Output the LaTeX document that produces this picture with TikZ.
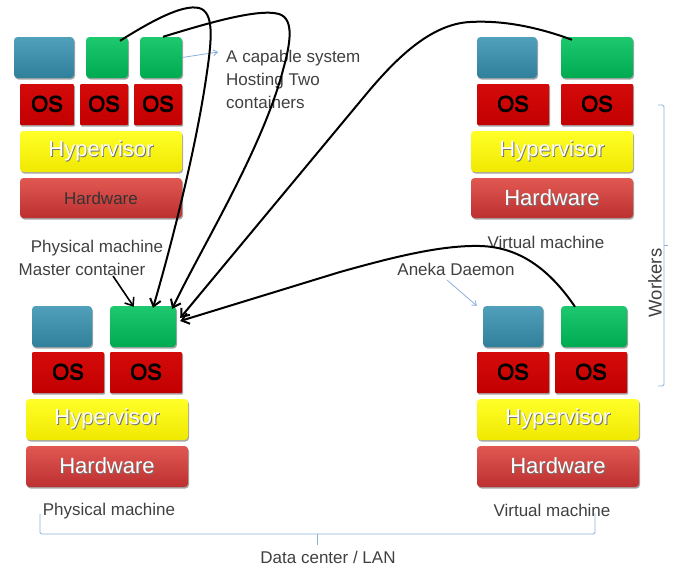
\documentclass[tikz,border=0pt]{standalone}
\usepackage{fontspec}
\setmainfont{Liberation Sans}
\usetikzlibrary{arrows.meta,shadows}

\definecolor{labelgray}{RGB}{64,64,64}
\definecolor{bracketblue}{RGB}{140,175,220}
\definecolor{contblueT}{RGB}{80,160,188}
\definecolor{contblueB}{RGB}{48,128,155}
\definecolor{contgreenT}{RGB}{30,200,110}
\definecolor{contgreenB}{RGB}{0,170,80}
\definecolor{osredT}{RGB}{212,10,10}
\definecolor{osredB}{RGB}{195,0,0}
\definecolor{hypT}{RGB}{255,255,40}
\definecolor{hypB}{RGB}{240,232,0}
\definecolor{hwT}{RGB}{225,88,82}
\definecolor{hwB}{RGB}{188,48,48}

% caption with a soft dark shadow behind it
\newcommand{\emboss}[1]{\makebox[0pt][l]{\raisebox{-0.9pt}{\hspace{0.9pt}\textcolor{black!55}{#1}}}#1}
% dark caption with a slight smudge round it
\newcommand{\heavy}[1]{\makebox[0pt][l]{\hspace{0.5pt}#1}\makebox[0pt][l]{\raisebox{-0.4pt}{#1}}#1}

% box given by its pixel corners: style, name, x1, y1, x2, y2, text
\newcommand{\stackbox}[7]{\node[#1, minimum width={(#5)-(#3)}, minimum height={(#6)-(#4)}] (#2) at ({((#3)+(#5))/2},{((#4)+(#6))/2}) {#7};}

\tikzset{
  layer/.style={rounded corners=3.5pt, inner sep=0pt, draw=none,
    drop shadow={shadow xshift=1pt, shadow yshift=-1.5pt, opacity=0.35, fill=black}},
  contblue/.style={layer, top color=contblueT, bottom color=contblueB},
  contgreen/.style={layer, top color=contgreenT, bottom color=contgreenB},
  osbox/.style={layer, rounded corners=1pt, top color=osredT, bottom color=osredB,
    font=\fontsize{22}{26}\selectfont, text=black},
  hyp/.style={layer, top color=hypT, bottom color=hypB,
    font=\fontsize{22}{26}\selectfont, text=white},
  hw/.style={layer, top color=hwT, bottom color=hwB,
    font=\fontsize{22}{26}\selectfont, text=white},
  hwsmall/.style={hw, font=\fontsize{17}{20}\selectfont, text=black!80},
  lbl/.style={inner sep=0pt, text=labelgray, font=\fontsize{17}{23}\selectfont},
  link/.style={line width=2pt, black, -{Straight Barb[length=7pt,width=11pt]}},
  note/.style={line width=0.8pt, bracketblue, -{Straight Barb[length=4pt,width=6pt]}},
  bracket/.style={line width=0.9pt, bracketblue, rounded corners=1.5pt}
}

\begin{document}
\begin{tikzpicture}[x=1pt, y=-1pt]
\useasboundingbox (0,0) rectangle (674,571);

% ---- capable system: one physical machine hosting two containers
\stackbox{contblue}{tlb}{14}{37}{74}{78}{}
\stackbox{contgreen}{tlga}{86}{37}{128}{78}{}
\stackbox{contgreen}{tlgb}{140}{37}{182}{78}{}
\stackbox{osbox}{tlosa}{20}{84}{74}{125}{\heavy{OS}}
\stackbox{osbox}{tlosb}{80}{84}{128}{125}{\heavy{OS}}
\stackbox{osbox}{tlosc}{134}{84}{182}{125}{\heavy{OS}}
\stackbox{hyp}{tlhyp}{20}{131}{182}{172}{\emboss{Hypervisor}}
\stackbox{hwsmall}{tlhw}{20}{178}{182}{218}{Hardware}

% ---- worker virtual machine (top)
\stackbox{contblue}{trb}{477}{37}{537}{78}{}
\stackbox{contgreen}{trg}{561}{37}{633}{78}{}
\stackbox{osbox}{trosa}{477}{84}{549}{125}{\heavy{OS}}
\stackbox{osbox}{trosb}{561}{84}{633}{125}{\heavy{OS}}
\stackbox{hyp}{trhyp}{471}{131}{633}{172}{\emboss{Hypervisor}}
\stackbox{hw}{trhw}{471}{178}{633}{218}{\emboss{Hardware}}

% ---- master: physical machine
\stackbox{contblue}{blb}{32}{306}{92}{347}{}
\stackbox{contgreen}{blg}{110}{306}{176}{347}{}
\stackbox{osbox}{blosa}{32}{352}{104}{393}{\heavy{OS}}
\stackbox{osbox}{blosb}{110}{352}{182}{393}{\heavy{OS}}
\stackbox{hyp}{blhyp}{26}{399}{188}{440}{\emboss{Hypervisor}}
\stackbox{hw}{blhw}{26}{446}{188}{487}{\emboss{Hardware}}

% ---- worker virtual machine (bottom)
\stackbox{contblue}{brb}{483}{306}{543}{347}{}
\stackbox{contgreen}{brg}{561}{306}{627}{347}{}
\stackbox{osbox}{brosa}{477}{352}{549}{393}{\heavy{OS}}
\stackbox{osbox}{brosb}{555}{352}{627}{393}{\heavy{OS}}
\stackbox{hyp}{brhyp}{477}{399}{639}{440}{\emboss{Hypervisor}}
\stackbox{hw}{brhw}{477}{446}{639}{487}{\emboss{Hardware}}

% ---- captions
\node[lbl, anchor=west, align=left] (capable) at (226,79) {A capable system\\Hosting Two\\containers};
\node[lbl] (vmtop) at (546,242) {Virtual machine};
\node[lbl] (pmmid) at (97,248) {Physical machine};
\node[lbl] (master) at (82,269) {Master container};
\node[lbl] (daemon) at (456,269) {Aneka Daemon};
\node[lbl] (pmbot) at (109,511) {Physical machine};
\node[lbl] (vmbot) at (552,510) {Virtual machine};
\node[lbl] (lan) at (328,557) {Data center / LAN};
\node[lbl, rotate=90, font=\fontsize{18.5}{22}\selectfont] (workers) at (655,283) {Workers};

% ---- pointers from captions
\draw[note] (tlgb.east) -- (218,52);
\draw[note] (447,280) -- ([xshift=-6pt]brb.north west);
\draw[link, line width=1.6pt] (113,276) -- ([xshift=24pt,yshift=-1pt]blg.north west);

% ---- containers reporting to the master container
\draw[link] ([xshift=13pt,yshift=-4pt]tlga.north)
  .. controls (150,22) and (182,4) .. (199,8)
  .. controls (214,12) and (212,38) .. (207,72)
  .. controls (196,150) and (170,250) .. ([xshift=10pt,yshift=-2pt]blg.north);
\draw[link] ([xshift=2pt]tlgb.north)
  .. controls (205,24) and (258,8) .. (279,14)
  .. controls (295,19) and (290,45) .. (283,70)
  .. controls (262,150) and (200,250) .. ([xshift=-4pt,yshift=-3pt]blg.north east);
\draw[link] ([xshift=-25pt,yshift=-3pt]trg.north)
  .. controls (540,28) and (505,20) .. (470,22)
  .. controls (430,24) and (395,60) .. (368,92)
  -- ([xshift=4pt,yshift=8.5pt]blg.east);
\draw[link] ([xshift=-19pt,yshift=-1pt]brg.north)
  .. controls (550,270) and (520,247) .. (480,246)
  .. controls (440,245) and (390,258) .. (340,272)
  -- ([xshift=4pt,yshift=5.5pt]blg.east);

% ---- brackets
\draw[bracket] (40,514) -- (40,534) -- (595,534) -- (595,513);
\draw[bracket] (317,534) -- (317,545);
\draw[bracket] (658,105) -- (664,105) -- (664,386) -- (658,386);
\draw[bracket] (664,245) -- (668,245);
\end{tikzpicture}
\end{document}
